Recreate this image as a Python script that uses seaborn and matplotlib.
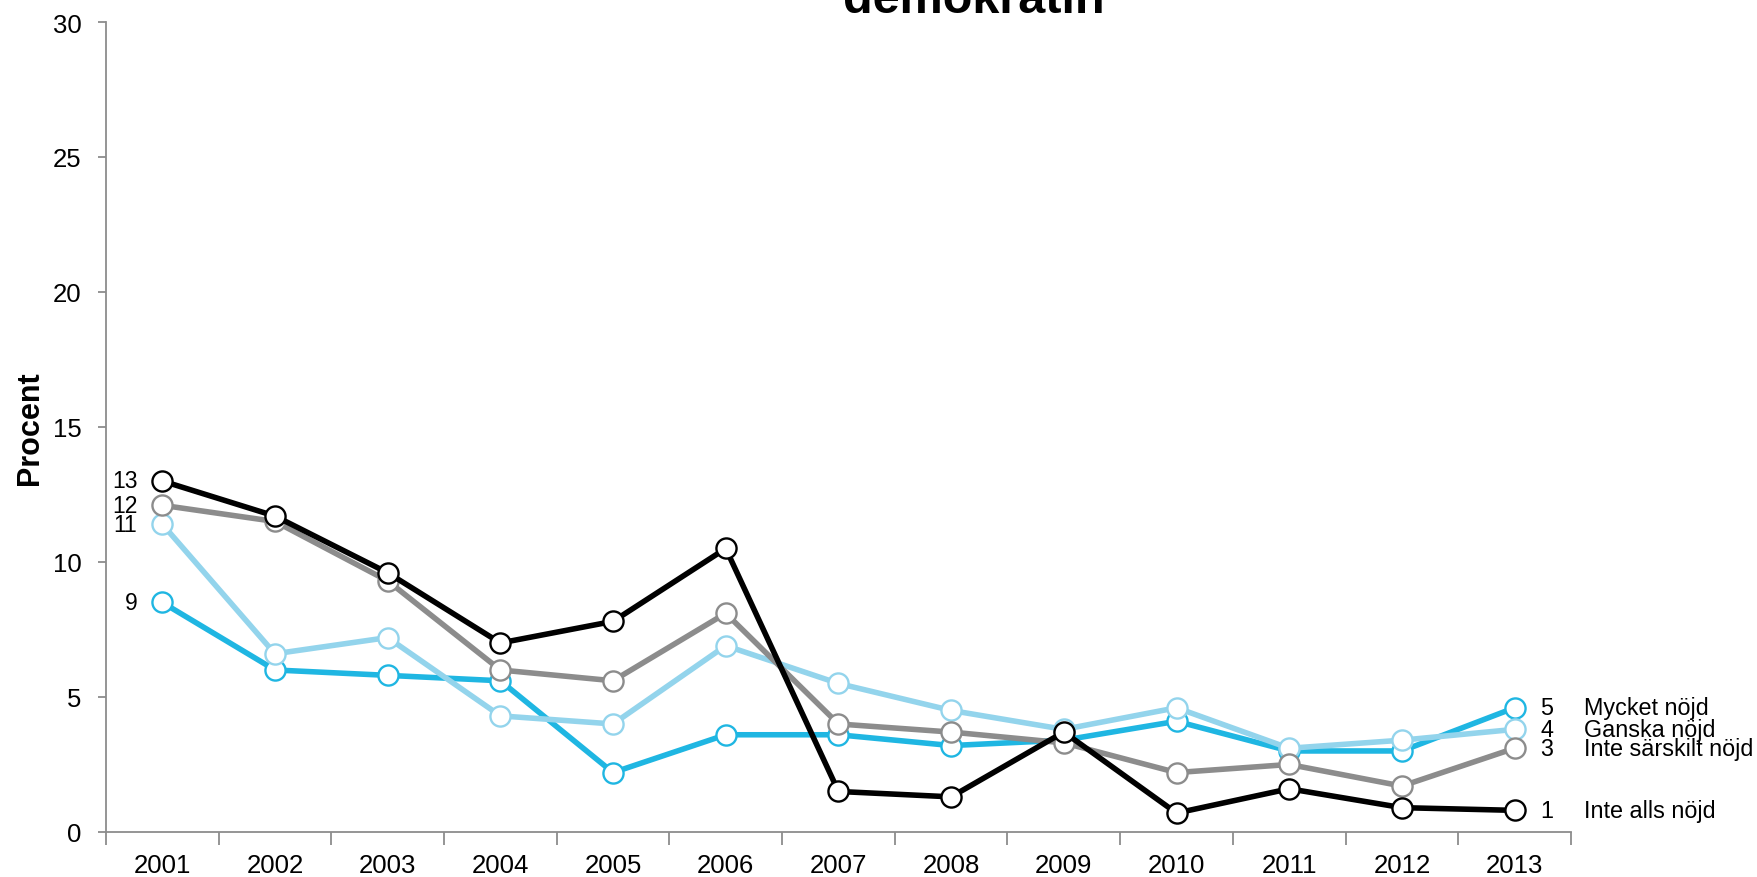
import seaborn as sns
import matplotlib.pyplot as plt
import pandas as pd

years = ['2001', '2002', '2003', '2004', '2005', '2006', '2007',
         '2008', '2009', '2010', '2011', '2012', '2013']

mycket_nojd = [8.5, 6.0, 5.8, 5.6, 2.2, 3.6, 3.6, 3.2, 3.4, 4.1, 3.0, 3.0, 4.6]
ganska_nojd = [11.4, 6.6, 7.2, 4.3, 4.0, 6.9, 5.5, 4.5, 3.8, 4.6, 3.1, 3.4, 3.8]
inte_sarskilt = [12.1, 11.5, 9.3, 6.0, 5.6, 8.1, 4.0, 3.7, 3.3, 2.2, 2.5, 1.7, 3.1]
inte_alls = [13.0, 11.7, 9.6, 7.0, 7.8, 10.5, 1.5, 1.3, 3.7, 0.7, 1.6, 0.9, 0.8]

series_names = ['Mycket nöjd', 'Ganska nöjd', 'Inte särskilt nöjd', 'Inte alls nöjd']
series_codes = ['5', '4', '3', '1']
left_labels = ['9', '11', '12', '13']
colors = ['#1FB6E2', '#93D4EC', '#8C8C8C', '#000000']

sns.set_style('white')
plt.rcParams['font.family'] = ['Liberation Sans', 'DejaVu Sans']
plt.rcParams['text.color'] = 'black'

fig = plt.figure(figsize=(17.57, 8.78), dpi=100)
ax = fig.add_axes([0.0603, 0.0513, 0.8338, 0.9225])

x = list(range(len(years)))
all_values = [mycket_nojd, ganska_nojd, inte_sarskilt, inte_alls]

for vals, name, code, lab, col in zip(all_values, series_names, series_codes, left_labels, colors):
    df = pd.DataFrame({'x': x, 'y': vals})
    sns.lineplot(data=df, x='x', y='y', ax=ax, color=col, linewidth=4.0,
                 marker='o', markersize=14.5, markerfacecolor='white',
                 markeredgecolor=col, markeredgewidth=1.7)
    # left value label
    ax.annotate(lab, (x[0], vals[0]), xytext=(-18, 0), textcoords='offset points',
                ha='right', va='center', fontsize=16.5)
    # right code + name
    ax.annotate(code, (x[-1], vals[-1]), xytext=(18.7, 0), textcoords='offset points',
                ha='left', va='center', fontsize=16.8, annotation_clip=False)
    ax.annotate(name, (x[-1], vals[-1]), xytext=(49.7, 0), textcoords='offset points',
                ha='left', va='center', fontsize=16.8, annotation_clip=False)

ax.set_xlim(-0.5, len(years) - 0.5)
ax.set_ylim(0, 30)
ax.set_yticks([0, 5, 10, 15, 20, 25, 30])
ax.set_xticks(x)
ax.set_xticklabels(years)
ax.set_xticks([i - 0.5 for i in range(len(years) + 1)], minor=True)

ax.tick_params(axis='x', which='major', length=0, pad=15, labelsize=18.5, labelcolor='black')
ax.tick_params(axis='x', which='minor', length=9, width=1.3, color='#8C8C8C',
               direction='out', bottom=True)
ax.tick_params(axis='y', which='major', length=6, width=1.3, color='#8C8C8C',
               direction='out', pad=11.5, labelsize=18.5, left=True, labelcolor='black')

for side in ['top', 'right']:
    ax.spines[side].set_visible(False)
for side in ['left', 'bottom']:
    ax.spines[side].set_color('#8C8C8C')
    ax.spines[side].set_linewidth(1.3)

ax.set_xlabel('')
ax.set_ylabel('')
fig.text(30 / 1757, 1 - 428 / 878, 'Procent', rotation=90, ha='center', va='center',
         fontsize=22, fontweight='bold')

fig.text(0.554, 1 - 13 / 878, 'demokratin', ha='center', va='baseline',
         fontsize=35, fontweight='bold')

plt.savefig('out.png', dpi=100)
